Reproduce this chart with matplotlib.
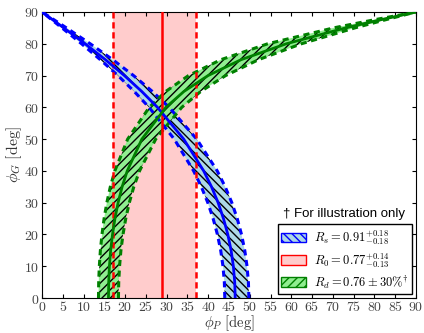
import matplotlib
matplotlib.use("Agg")
import matplotlib.pyplot as plt
from matplotlib.patches import Patch

plt.rcParams['mathtext.fontset'] = 'cm'

# phi_G grid (deg) shared by all curves
phi_g = [0, 5, 10, 15, 20, 25, 30, 35, 40, 50, 60, 65, 70, 75, 80, 85, 87.5, 90]

# R_s band (blue): phi_P values at each phi_G
rs_center = [46.5, 46.39, 46.06, 45.51, 44.72, 43.68, 42.39, 40.80, 38.91, 34.11, 27.79, 24.01, 19.82, 15.26, 10.37, 5.25, 2.63, 0.0]
rs_low    = [44.0, 43.89, 43.56, 43.01, 42.22, 41.19, 39.91, 38.35, 36.49, 31.83, 25.77, 22.20, 18.28, 14.03, 9.52, 4.81, 2.41, 0.0]
rs_high   = [49.8, 49.68, 49.35, 48.80, 48.02, 46.99, 45.69, 44.09, 42.18, 37.24, 30.60, 26.56, 22.03, 17.02, 11.61, 5.89, 2.95, 0.0]

# R_d band (green)
rd_center = [16.0, 16.06, 16.23, 16.53, 16.97, 17.56, 18.32, 19.29, 20.52, 24.04, 29.83, 34.16, 39.98, 47.93, 58.80, 73.09, 81.35, 90.0]
rd_low    = [13.6, 13.65, 13.80, 14.06, 14.44, 14.95, 15.61, 16.45, 17.53, 20.62, 25.82, 29.79, 35.27, 43.07, 54.33, 70.19, 79.78, 90.0]
rd_high   = [18.4, 18.47, 18.67, 19.00, 19.50, 20.16, 21.02, 22.10, 23.48, 27.37, 33.64, 38.21, 44.21, 52.12, 62.44, 75.32, 82.53, 90.0]

# R_0 band (red): phi_P
r0_center = 28.8
r0_low = 17.2
r0_high = 37.0

x_ticks = list(range(0, 91, 5))
y_ticks = list(range(0, 91, 10))

labels = [r'$R_s = 0.91^{+0.18}_{-0.18}$',
          r'$R_0 = 0.77^{+0.14}_{-0.13}$',
          r'$R_d = 0.76 \pm 30\%^{\dagger}$']
note = u'\u2020 For illustration only'

fig = plt.figure(figsize=(4.24, 3.33), dpi=100)
ax = fig.add_axes([0.099, 0.105, 0.882, 0.859])

# red band
ax.axvspan(r0_low, r0_high, facecolor='#ffcccc', edgecolor='none', zorder=1)

# blue band
ax.fill_betweenx(phi_g, rs_low, rs_high, facecolor='#add8e6', edgecolor='k',
                 linewidth=0, hatch='\\\\\\\\', zorder=2)
# green band
ax.fill_betweenx(phi_g, rd_low, rd_high, facecolor='#90ee90', edgecolor='k',
                 linewidth=0, hatch='////', zorder=3)

ax.plot(rs_low, phi_g, color='blue', ls='--', lw=2.2, dashes=(2, 1.5), zorder=4)
ax.plot(rs_high, phi_g, color='blue', ls='--', lw=2.2, dashes=(2, 1.5), zorder=4)
ax.plot(rd_low, phi_g, color='green', ls='--', lw=2.2, dashes=(2, 1.5), zorder=4)
ax.plot(rd_high, phi_g, color='green', ls='--', lw=2.2, dashes=(2, 1.5), zorder=4)

ax.axvline(r0_low, color='red', ls='--', lw=1.8, dashes=(2.5, 1.5), zorder=5)
ax.axvline(r0_high, color='red', ls='--', lw=1.8, dashes=(2.5, 1.5), zorder=5)
ax.axvline(r0_center, color='red', lw=1.8, zorder=6)

ax.plot(rs_center, phi_g, color='blue', lw=2, zorder=6)
ax.plot(rd_center, phi_g, color='green', lw=2, zorder=6)

ax.set_xlim(0, 90)
ax.set_ylim(0, 90)
ax.set_xticks(x_ticks)
ax.set_yticks(y_ticks)
ax.set_xticklabels([r'$%d$' % v for v in x_ticks])
ax.set_yticklabels([r'$%d$' % v for v in y_ticks])
ax.tick_params(direction='in', top=True, right=True, labelsize=10,
               labelcolor='#444444', pad=2, length=3)
ax.tick_params(axis='x', pad=1.5)
ax.set_xlabel(r'$\phi_P\ [\mathrm{deg}]$', fontsize=10.5, labelpad=-0.3, color='#333333')
ax.set_ylabel(r'$\phi_G\ [\mathrm{deg}]$', fontsize=11.5, labelpad=0, color='#333333')

handles = [Patch(facecolor='#add8e6', edgecolor='blue', hatch='\\\\\\\\'),
           Patch(facecolor='#ffcccc', edgecolor='red'),
           Patch(facecolor='#90ee90', edgecolor='green', hatch='////')]
leg = ax.legend(handles, labels, loc='lower right', fontsize=9,
                fancybox=False, edgecolor='k', framealpha=1,
                borderaxespad=0.3, handlelength=2.0, handleheight=0.8,
                labelspacing=0.3, borderpad=0.3, handletextpad=0.6)
leg.get_frame().set_linewidth(1.0)
leg.set_zorder(10)

ax.text(0.808, 0.295, note, transform=ax.transAxes, ha='center', va='center',
        fontsize=9.5, family='Liberation Sans', zorder=10)

fig.savefig('out.png', dpi=100)
